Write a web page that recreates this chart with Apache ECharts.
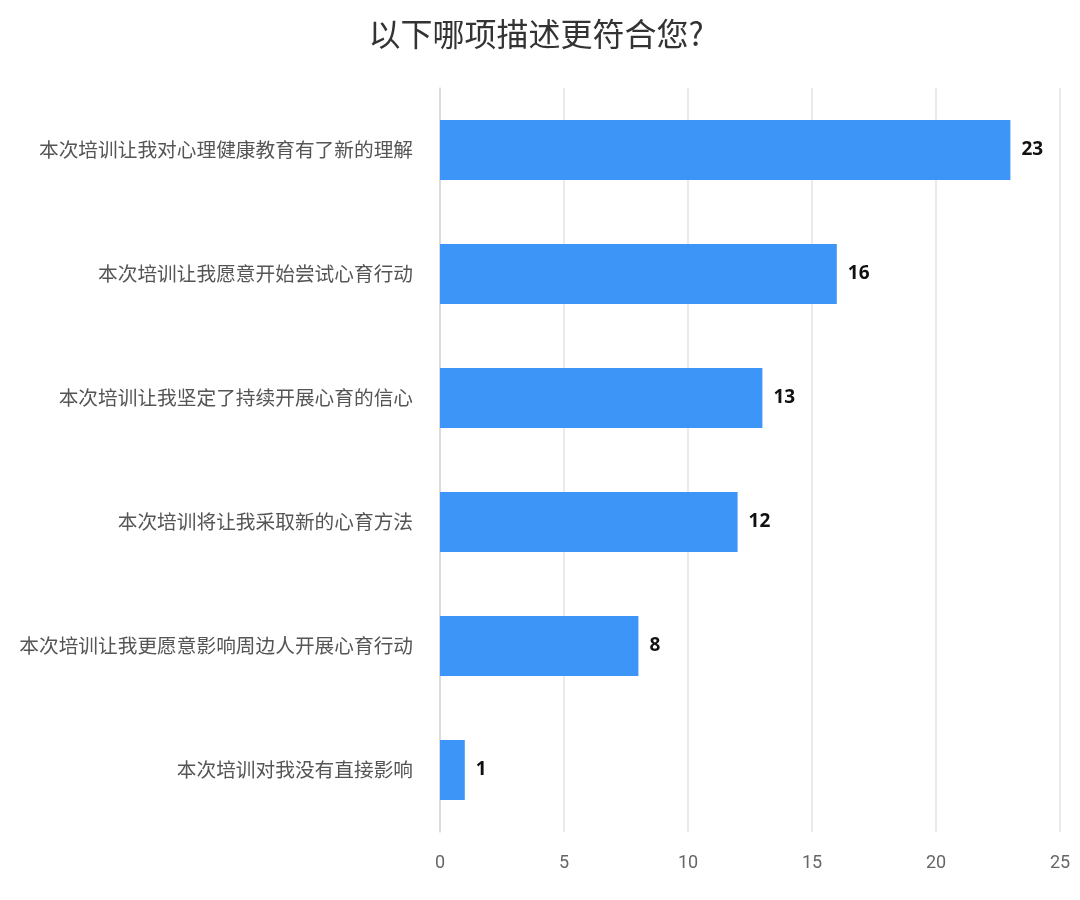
<!DOCTYPE html>
<html>
<head>
<meta charset="utf-8">
<script src="https://cdn.jsdelivr.net/npm/echarts@6/dist/echarts.min.js"></script>
<style>
html,body{margin:0;padding:0;background:#fff;}
#chart{width:1080px;height:900px;}
</style>
</head>
<body>
<div id="chart"></div>
<script>
// 数据
var categories = [
  '本次培训让我对心理健康教育有了新的理解',
  '本次培训让我愿意开始尝试心育行动',
  '本次培训让我坚定了持续开展心育的信心',
  '本次培训将让我采取新的心育方法',
  '本次培训让我更愿意影响周边人开展心育行动',
  '本次培训对我没有直接影响'
];
var counts = [23, 16, 13, 12, 8, 1];

var myChart = echarts.init(document.getElementById('chart'));
var option = {
  title: {
    text: '以下哪项描述更符合您?',
    left: 531,
    textAlign: 'center',
    top: 13,
    textStyle: {
      fontSize: 32,
      fontWeight: 'normal',
      color: '#333',
      fontFamily: 'Noto Sans CJK SC'
    }
  },
  grid: {
    left: 440,
    right: 20,
    top: 88,
    bottom: 68
  },
  xAxis: {
    type: 'value',
    min: 0,
    max: 25,
    interval: 5,
    axisLine: { show: false },
    axisTick: { show: false },
    splitLine: { lineStyle: { color: '#e3e3e3', width: 1.5 } },
    axisLabel: {
      margin: 22,
      fontSize: 18,
      color: '#666',
      fontFamily: 'Liberation Sans Narrow, Roboto'
    }
  },
  yAxis: {
    type: 'category',
    inverse: true,
    data: categories,
    axisLine: { show: true, lineStyle: { color: '#d6d6d6', width: 1.5 } },
    axisTick: { show: false },
    axisLabel: {
      margin: 27,
      fontSize: 19.7,
      color: '#555',
      fontFamily: 'Noto Sans CJK SC'
    }
  },
  series: [{
    type: 'bar',
    data: counts,
    barWidth: 60,
    itemStyle: { color: '#3d95f7' },
    label: {
      show: true,
      position: 'right',
      distance: 11,
      fontSize: 19,
      fontWeight: 'bold',
      color: '#111',
      fontFamily: 'Open Sans'
    }
  }]
};
myChart.setOption(option);
</script>
</body>
</html>
